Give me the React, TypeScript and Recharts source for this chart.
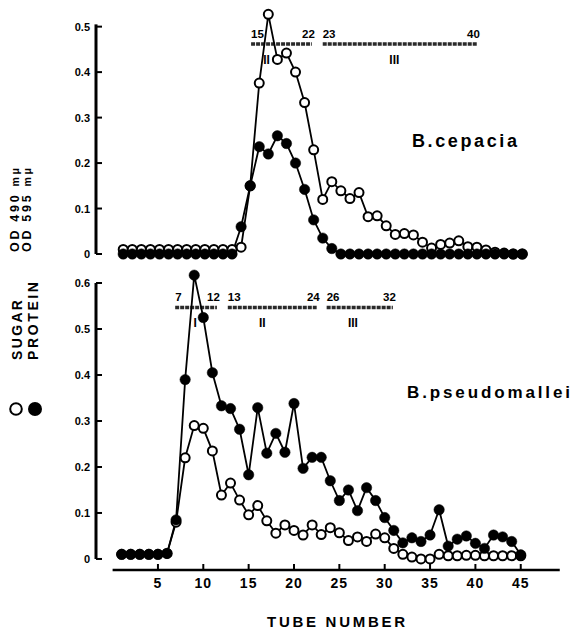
import React from 'react';
import { LineChart, Line, XAxis, YAxis, ReferenceLine } from 'recharts';

// tube numbers 1..45
const tubes = [
  1, 2, 3, 4, 5, 6, 7, 8, 9, 10, 11, 12, 13, 14, 15, 16, 17, 18, 19, 20, 21, 22, 23,
  24, 25, 26, 27, 28, 29, 30, 31, 32, 33, 34, 35, 36, 37, 38, 39, 40, 41, 42, 43, 44, 45,
];

// B. cepacia (upper panel)
const cepaciaSugar = [
  0.01, 0.01, 0.01, 0.01, 0.01, 0.01, 0.01, 0.01, 0.01, 0.01, 0.01, 0.01, 0.01, 0.015, 0.15,
  0.376, 0.527, 0.428, 0.442, 0.4, 0.333, 0.229, 0.12, 0.159, 0.139, 0.122, 0.135, 0.082, 0.084, 0.062,
  0.043, 0.045, 0.042, 0.026, 0.013, 0.021, 0.024, 0.029, 0.016, 0.015, 0.009, 0.004, 0.002, 0, 0,
];
const cepaciaProtein = [
  0, 0, 0, 0, 0, 0, 0, 0, 0, 0, 0, 0, 0, 0.06, 0.15,
  0.236, 0.22, 0.26, 0.243, 0.2, 0.142, 0.075, 0.035, 0.012, 0, 0, 0, 0, 0, 0,
  0, 0, 0, 0, 0, 0, 0, 0, 0, 0, 0, 0, 0, 0, 0,
];

// B. pseudomallei (lower panel)
const pseudoSugar = [
  0.01, 0.01, 0.01, 0.01, 0.01, 0.012, 0.08, 0.22, 0.29, 0.284, 0.235, 0.139, 0.165, 0.128, 0.096,
  0.116, 0.083, 0.056, 0.074, 0.062, 0.052, 0.074, 0.053, 0.068, 0.057, 0.04, 0.048, 0.038, 0.054, 0.046,
  0.023, 0.01, 0.004, 0, 0, 0.01, 0.007, 0.007, 0.008, 0.008, 0.007, 0.007, 0.007, 0.007, 0.007,
];
const pseudoProtein = [
  0.01, 0.01, 0.01, 0.01, 0.01, 0.012, 0.085, 0.39, 0.617, 0.525, 0.405, 0.333, 0.327, 0.282, 0.183,
  0.329, 0.23, 0.273, 0.232, 0.338, 0.197, 0.221, 0.221, 0.17, 0.127, 0.15, 0.105, 0.155, 0.127, 0.09,
  0.062, 0.035, 0.046, 0.038, 0.052, 0.107, 0.028, 0.043, 0.05, 0.034, 0.023, 0.052, 0.048, 0.038, 0.009,
];

const xTicks = [5, 10, 15, 20, 25, 30, 35, 40, 45];
const cepaciaTicks = [0, 0.1, 0.2, 0.3, 0.4, 0.5];
const pseudoTicks = [0, 0.1, 0.2, 0.3, 0.4, 0.5, 0.6];

// fraction bars (in tube units), with the tube numbers written over them
const cepaciaBands = [
  { from: 15.1, to: 21.8, y: 0.462, start: '15', end: '22', numeral: 'II', at: 16.8 },
  { from: 23, to: 40, y: 0.462, start: '23', end: '40', numeral: 'III', at: 30.9 },
];
const pseudoBands = [
  { from: 6.9, to: 11.5, y: 0.547, start: '7', end: '12', numeral: 'I', at: 9.1 },
  { from: 12.7, to: 22.5, y: 0.547, start: '13', end: '24', numeral: 'II', at: 16.5 },
  { from: 23.6, to: 30.9, y: 0.547, start: '26', end: '32', numeral: 'III', at: 26.5 },
];

const cepaciaData = tubes.map((t, i) => ({ tube: t, sugar: cepaciaSugar[i], protein: cepaciaProtein[i] }));
const pseudoData = tubes.map((t, i) => ({ tube: t, sugar: pseudoSugar[i], protein: pseudoProtein[i] }));

const FONT = '"Liberation Sans", Arial, Helvetica, sans-serif';

const fmt = (v: number) => (v === 0 ? '0' : v.toFixed(1));

const YTick = ({ x, y, payload }: any) => (
  <g>
    <line x1={x} x2={x + 6} y1={y} y2={y} stroke="#000" strokeWidth={2} />
    <text x={x - 6} y={y + 4} textAnchor="end" fontSize={11} fontWeight={700} fontFamily={FONT} fill="#000">
      {fmt(payload.value)}
    </text>
  </g>
);

const XTick = ({ x, y, payload }: any) => (
  <g>
    <line x1={x} x2={x} y1={y - 6} y2={y} stroke="#000" strokeWidth={2} />
    <text x={x} y={y + 18} textAnchor="middle" fontSize={14} fontWeight={700} fontFamily={FONT} fill="#000" letterSpacing={1}>
      {payload.value}
    </text>
  </g>
);

const bandShape = (band: any) => (p: any) => {
  const { x1, y1, x2 } = p;
  const mid = x1 + ((x2 - x1) * (band.at - band.from)) / (band.to - band.from);
  const txt = { fontSize: 11.5, fontWeight: 700, fontFamily: FONT, fill: '#000' };
  return (
    <g>
      <line x1={x1} y1={y1} x2={x2} y2={y1} stroke="#2a2a2a" strokeWidth={3.5} strokeDasharray="4 1" />
      <text x={x1} y={y1 - 6} textAnchor="start" {...txt}>{band.start}</text>
      <text x={x2 + 3} y={y1 - 6} textAnchor="end" {...txt}>{band.end}</text>
      <text x={mid} y={y1 + 20} textAnchor="middle" {...txt} fontSize={12}>{band.numeral}</text>
    </g>
  );
};

const openDot = { r: 4.5, fill: '#fff', stroke: '#000', strokeWidth: 2 };
const closedDot = { r: 5.2, fill: '#000', stroke: '#000', strokeWidth: 0.5 };

export default function App() {
  return (
    <div style={{ position: 'absolute', left: 0, top: 0, width: 571, height: 631, background: '#fff' }}>
      {/* upper panel: B. cepacia */}
      <div style={{ position: 'absolute', left: 0, top: 0 }}>
        <LineChart width={571} height={270} data={cepaciaData} margin={{ top: 13, right: 3.4, bottom: 16, left: 36 }}>
          <XAxis type="number" dataKey="tube" domain={[-2, 50]} hide />
          <YAxis
            type="number"
            domain={[0, 0.53]}
            ticks={cepaciaTicks}
            width={60}
            axisLine={false}
            tickLine={false}
            tickSize={0}
            tickMargin={0}
            interval={0}
            tick={<YTick />}
          />
          <ReferenceLine segment={[{ x: -2, y: 0 }, { x: -2, y: 0.505 }]} stroke="#000" strokeWidth={3} ifOverflow="visible" />
          {cepaciaBands.map((b, i) => (
            <ReferenceLine
              key={i}
              segment={[{ x: b.from, y: b.y }, { x: b.to, y: b.y }]}
              ifOverflow="visible"
              shape={bandShape(b)}
            />
          ))}
          <Line type="linear" dataKey="sugar" stroke="#000" strokeWidth={1.8} dot={openDot} activeDot={false} isAnimationActive={false} />
          <Line type="linear" dataKey="protein" stroke="#000" strokeWidth={1.8} dot={closedDot} activeDot={false} isAnimationActive={false} />
        </LineChart>
      </div>

      {/* lower panel: B. pseudomallei */}
      <div style={{ position: 'absolute', left: 0, top: 260 }}>
        <LineChart width={571} height={371} data={pseudoData} margin={{ top: 13.8, right: 4.9, bottom: 11, left: 36 }}>
          <XAxis
            type="number"
            dataKey="tube"
            domain={[-1.83, 50]}
            ticks={xTicks}
            height={50}
            axisLine={false}
            tickLine={false}
            tickSize={0}
            tickMargin={0}
            interval={0}
            tick={<XTick />}
          />
          <YAxis
            type="number"
            domain={[-0.024, 0.62]}
            ticks={pseudoTicks}
            width={60}
            axisLine={false}
            tickLine={false}
            tickSize={0}
            tickMargin={0}
            interval={0}
            tick={<YTick />}
          />
          <ReferenceLine segment={[{ x: -1.83, y: 0 }, { x: -1.83, y: 0.6 }]} stroke="#000" strokeWidth={3} ifOverflow="visible" />
          <ReferenceLine segment={[{ x: 0, y: -0.024 }, { x: 49.3, y: -0.024 }]} stroke="#000" strokeWidth={2.6} ifOverflow="visible" />
          {pseudoBands.map((b, i) => (
            <ReferenceLine
              key={i}
              segment={[{ x: b.from, y: b.y }, { x: b.to, y: b.y }]}
              ifOverflow="visible"
              shape={bandShape(b)}
            />
          ))}
          <Line type="linear" dataKey="sugar" stroke="#000" strokeWidth={1.8} dot={openDot} activeDot={false} isAnimationActive={false} />
          <Line type="linear" dataKey="protein" stroke="#000" strokeWidth={1.8} dot={closedDot} activeDot={false} isAnimationActive={false} />
        </LineChart>
      </div>

      {/* labels */}
      <svg width={571} height={631} style={{ position: 'absolute', left: 0, top: 0, pointerEvents: 'none' }}>
        <g fontFamily={FONT} fontWeight={700} fill="#000">
          <text x={412} y={147} fontSize={18} textLength={105} lengthAdjust="spacing">B.cepacia</text>
          <text x={407} y={398} fontSize={17} textLength={163} lengthAdjust="spacing">B.pseudomallei</text>
          <text x={267} y={627} fontSize={15} textLength={138} lengthAdjust="spacing">TUBE NUMBER</text>
          <text x={18.5} y={252} fontSize={12.5} transform="rotate(-90 18.5 252)" textLength={84} lengthAdjust="spacing">
            OD 490 <tspan fontSize={10.5}>mμ</tspan>
          </text>
          <text x={30.5} y={252} fontSize={12.5} transform="rotate(-90 30.5 252)" textLength={84} lengthAdjust="spacing">
            OD 595 <tspan fontSize={10.5}>mμ</tspan>
          </text>
          <text x={21.7} y={360} fontSize={14} transform="rotate(-90 21.7 360)" textLength={60} lengthAdjust="spacing">SUGAR</text>
          <text x={38.3} y={360} fontSize={14} transform="rotate(-90 38.3 360)" textLength={78} lengthAdjust="spacing">PROTEIN</text>
        </g>
        <circle cx={16} cy={409} r={5.8} fill="#fff" stroke="#000" strokeWidth={2} />
        <circle cx={35} cy={409} r={7} fill="#000" />
      </svg>
    </div>
  );
}
